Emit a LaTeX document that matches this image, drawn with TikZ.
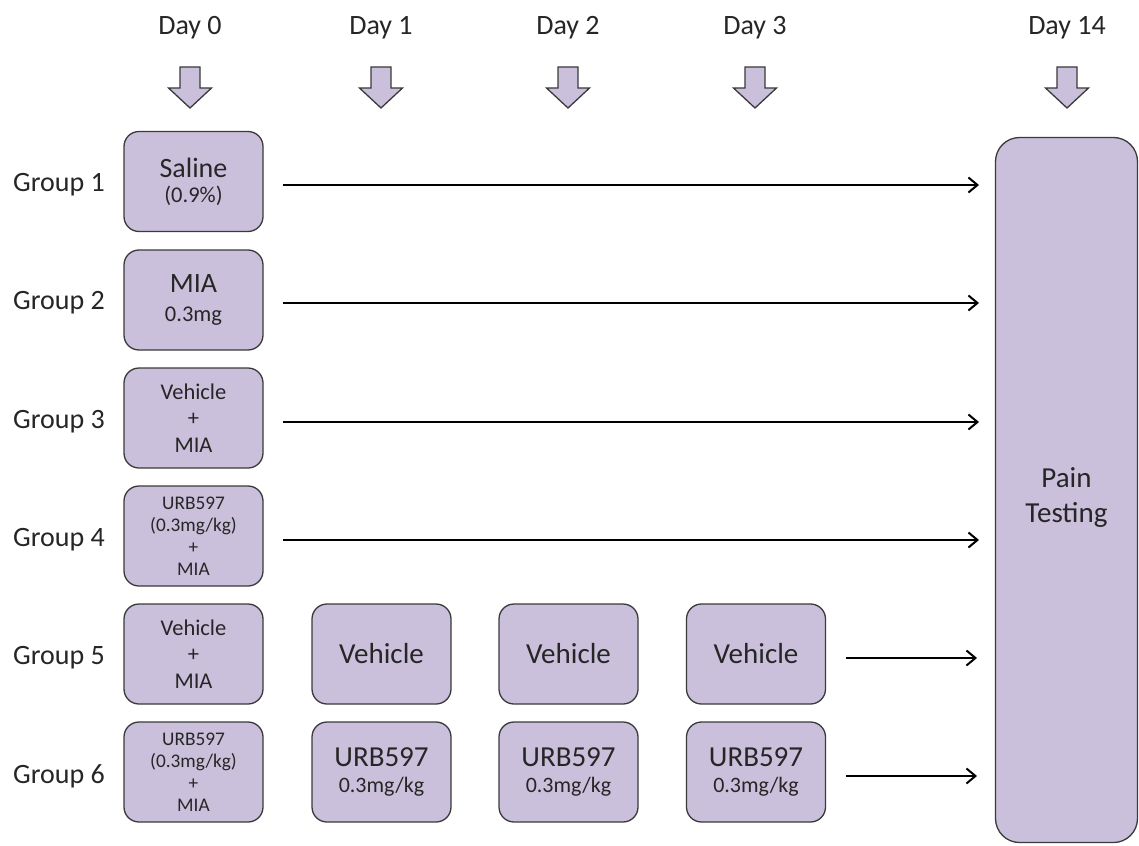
\documentclass[tikz,border=0pt]{standalone}
\usepackage{fontspec}
\setmainfont{Carlito}
\usetikzlibrary{arrows.meta}
\definecolor{boxfill}{HTML}{CBC0DB}
\definecolor{boxline}{HTML}{3A3A3A}
\tikzset{
  x=1pt,y=-1pt,
  grpbox/.style={draw=boxline,fill=boxfill,line width=1.3pt,rounded corners=15pt,
    minimum width=139pt,minimum height=100pt,align=center,inner sep=2pt,text=black!85},
  painbox/.style={grpbox,minimum width=142pt,minimum height=705pt,rounded corners=24pt},
  lbl/.style={font=\fontsize{28}{32}\selectfont,text=black!85},
  flow/.style={-{Straight Barb[length=9pt,width=15pt,line width=2pt]},line width=2.6pt,black},
  dayarrow/.style={draw=boxline,fill=boxfill,line width=1.3pt},
}
\newcommand{\fbig}{\fontsize{28}{30}\selectfont}
\newcommand{\fhuge}{\fontsize{29}{30}\selectfont}
\newcommand{\fmid}{\fontsize{22.5}{26}\selectfont}
\begin{document}
\begin{tikzpicture}
\useasboundingbox (0,0) rectangle (1139,845);
% day labels
\node[lbl] (d0) at (190,28) {Day 0};
\node[lbl] (d1) at (381,28) {Day 1};
\node[lbl] (d2) at (568,28) {Day 2};
\node[lbl] (d3) at (755,28) {Day 3};
\node[lbl] (d14) at (1067,28) {Day 14};
% block arrows
\foreach \xc in {190,381,568,755,1067}{
  \draw[dayarrow] (\xc-10,67) -- (\xc+10,67) -- (\xc+10,88) -- (\xc+21.5,88) -- (\xc,108)
     -- (\xc-21.5,88) -- (\xc-10,88) -- cycle;
}
% group labels
\node[lbl] (g1) at (59,185) {Group 1};
\node[lbl] (g2) at (59,303) {Group 2};
\node[lbl] (g3) at (59,422) {Group 3};
\node[lbl] (g4) at (59,540) {Group 4};
\node[lbl] (g5) at (59,658) {Group 5};
\node[lbl] (g6) at (59,776) {Group 6};
% day 0 boxes
\node[grpbox,font=\fontsize{22.5}{25}\selectfont] (b1) at (193.5,181.5) {{\fbig Saline}\\{\fmid (0.9\%)}};
\node[grpbox,font=\fontsize{22.5}{29}\selectfont] (b2) at (193.5,300) {{\fbig MIA}\\{\fmid 0.3mg}};
\node[grpbox,font=\fontsize{22.5}{26.5}\selectfont] (b3) at (193.5,418) {Vehicle\\+\\MIA};
\node[grpbox,font=\fontsize{19.3}{22}\selectfont] (b4) at (193.5,536) {URB597\\(0.3mg/kg)\\+\\MIA};
\node[grpbox,font=\fontsize{22.5}{26.5}\selectfont] (b5) at (193.5,654) {Vehicle\\+\\MIA};
\node[grpbox,font=\fontsize{19.3}{22}\selectfont] (b6) at (193.5,772) {URB597\\(0.3mg/kg)\\+\\MIA};
% day 1-3 boxes
\node[grpbox,font=\fhuge] (v1) at (381.5,654) {Vehicle};
\node[grpbox,font=\fhuge] (v2) at (568.5,654) {Vehicle};
\node[grpbox,font=\fhuge] (v3) at (756,654) {Vehicle};
\node[grpbox,font=\fontsize{22}{26}\selectfont] (u1) at (381.5,772) {{\fhuge URB597}\\0.3mg/kg};
\node[grpbox,font=\fontsize{22}{26}\selectfont] (u2) at (568.5,772) {{\fhuge URB597}\\0.3mg/kg};
\node[grpbox,font=\fontsize{22}{26}\selectfont] (u3) at (756,772) {{\fhuge URB597}\\0.3mg/kg};
% pain testing
\node[painbox,label={[font=\fontsize{29}{35}\selectfont,align=center,text=black!85,yshift=-8pt]center:Pain\\Testing}] (pain) at (1066.5,490) {};
% arrow end coordinates
\coordinate (e1) at (979,185);
\coordinate (e2) at (979,303);
\coordinate (e3) at (979,422);
\coordinate (e4) at (979,540);
\coordinate (e5) at (977,658);
\coordinate (e6) at (977,776);
\coordinate (s1) at (283,185);
\coordinate (s2) at (283,303);
\coordinate (s3) at (283,422);
\coordinate (s4) at (283,540);
\coordinate (s5) at (846,658);
\coordinate (s6) at (846,776);
\foreach \i in {1,...,6}{\draw[flow] (s\i) -- (e\i);}
\end{tikzpicture}
\end{document}
